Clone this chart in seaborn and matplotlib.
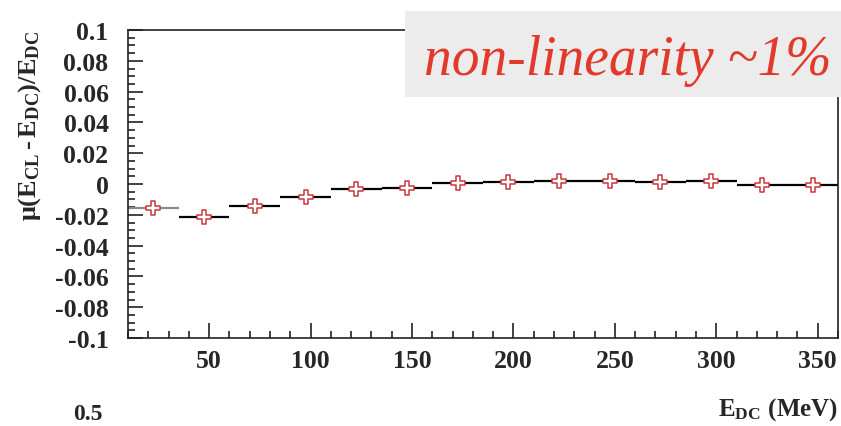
import numpy as np
import pandas as pd
import matplotlib
matplotlib.use("Agg")
import matplotlib.pyplot as plt
import seaborn as sns
from matplotlib.ticker import MultipleLocator, FixedFormatter, FixedLocator

# Bin edges of the DC energy histogram (MeV) and mean relative deviation per bin
bin_low = [10, 35, 60, 85, 110, 135, 160, 185, 210, 235, 260, 285, 310, 335]
bin_high = [35, 60, 85, 110, 135, 160, 185, 210, 235, 260, 285, 310, 335, 360]
rel_dev = [-0.0156, -0.0214, -0.0145, -0.0086, -0.0034, -0.0027, 0.0005,
           0.0011, 0.0021, 0.0021, 0.0011, 0.0021, -0.0005, -0.0005]

y_ticks = [0.1, 0.08, 0.06, 0.04, 0.02, 0, -0.02, -0.04, -0.06, -0.08, -0.1]
y_tick_labels = ["0.1", "0.08", "0.06", "0.04", "0.02", "0", "-0.02",
                 "-0.04", "-0.06", "-0.08", "-0.1"]
x_ticks = [50, 100, 150, 200, 250, 300, 350]
x_tick_labels = ["50", "100", "150", "200", "250", "300", "350"]

df = pd.DataFrame({
    "low": bin_low,
    "high": bin_high,
    "dev": rel_dev,
})
df["center"] = (df["low"] + df["high"]) / 2

sns.set_style("white")
plt.rcParams["font.family"] = ["Liberation Serif", "DejaVu Serif"]
plt.rcParams["mathtext.fontset"] = "custom"
plt.rcParams["mathtext.rm"] = "Liberation Serif:bold"
plt.rcParams["mathtext.it"] = "Liberation Serif:bold"
plt.rcParams["mathtext.bf"] = "Liberation Serif:bold"

fig = plt.figure(figsize=(8.41, 4.27), dpi=100)
ax = fig.add_axes([128 / 841, 1 - 339 / 427, 710 / 841, 308 / 427])

# horizontal bars spanning each bin
line_colors = ["#8a8a8a"] + ["black"] * (len(df) - 1)
ax.hlines(df["dev"], df["low"], df["high"], colors=line_colors, linewidth=1.6, zorder=2)

# open-cross markers at the bin centres
sns.scatterplot(data=df, x="center", y="dev", ax=ax, marker="P", s=115,
                facecolor="white", edgecolor="#c8383c", linewidth=1.1, zorder=3,
                legend=False)

ax.set_xlim(10, 360)
ax.set_ylim(-0.1, 0.1)

ax.yaxis.set_major_locator(FixedLocator(y_ticks))
ax.yaxis.set_major_formatter(FixedFormatter(y_tick_labels))
ax.yaxis.set_minor_locator(MultipleLocator(0.005))
ax.xaxis.set_major_locator(FixedLocator(x_ticks))
ax.xaxis.set_major_formatter(FixedFormatter(x_tick_labels))
ax.xaxis.set_minor_locator(MultipleLocator(10))

ax.tick_params(axis="both", which="both", direction="in", left=True, bottom=True,
               right=False, top=False, width=1.2, color="#222222")
ax.tick_params(axis="both", which="major", length=10.5)
ax.tick_params(axis="both", which="minor", length=5)
ax.tick_params(axis="y", which="major", pad=14, labelsize=18.5)
ax.tick_params(axis="x", which="major", pad=8, labelsize=18.5)
for lab in ax.get_xticklabels() + ax.get_yticklabels():
    lab.set_fontweight("bold")

for sp in ax.spines.values():
    sp.set_linewidth(1.2)
    sp.set_color("#222222")

ax.set_xlabel(r"$\mathrm{E_{DC}\ (MeV)}$", fontsize=18, loc="right")
ax.xaxis.set_label_coords(1.0, -0.272)
ax.xaxis.label.set_va("bottom")

ax.set_ylabel(r"$\mathrm{\mu(E_{CL}\,\text{-}\,E_{DC})/E_{DC}}$", fontsize=19, loc="top")
ax.yaxis.set_label_coords(-0.138, 1.0)
ax.yaxis.label.set_va("center")

# annotation box across the upper right corner
box = plt.Rectangle((405 / 841, 1 - 98 / 427), 436 / 841, 86 / 427,
                    transform=fig.transFigure, facecolor="#ececec",
                    edgecolor="none", zorder=5)
fig.add_artist(box)
fig.text(628 / 841, 1 - 61 / 427, "non-linearity ~1%", fontsize=40,
         fontstyle="italic", color="#e2392b", ha="center", va="center", zorder=6)

# edge of the neighbouring panel's axis label
fig.text(88 / 841, 1 - 425 / 427, "0.5", fontsize=17, fontweight="bold",
         ha="center", va="bottom")

fig.savefig("out.png", dpi=100)
